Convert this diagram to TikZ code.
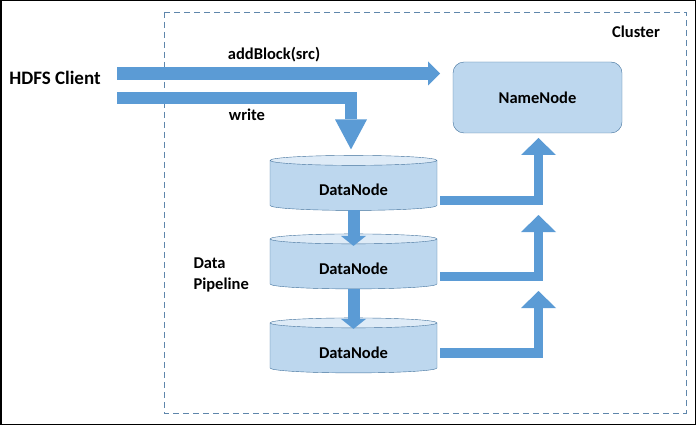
\documentclass[tikz,border=0pt]{standalone}
\usepackage{fontspec}
\setmainfont{Carlito}
\usetikzlibrary{arrows.meta,shapes.geometric,calc}

\definecolor{flowblue}{HTML}{5B9BD5}
\definecolor{rimblue}{HTML}{41719C}
\definecolor{bodyblue}{HTML}{BDD7EE}
\definecolor{capblue}{HTML}{DEEBF7}

\tikzset{
  lbl/.style={font=\fontsize{16.5}{21}\selectfont\bfseries},
  datanode/.style={cylinder, shape border rotate=90, aspect=0.144,
    draw=rimblue, cylinder uses custom fill, cylinder body fill=bodyblue,
    cylinder end fill=capblue, minimum width=167pt, minimum height=55pt,
    inner sep=0pt, outer sep=0pt, text height=20.5pt, text depth=0.5pt, lbl},
  namenode/.style={rectangle, rounded corners=11pt, draw=rimblue, fill=bodyblue,
    minimum width=169pt, minimum height=71pt, outer sep=0pt, lbl},
  flow/.style={draw=flowblue, line width=#1, line join=miter},
}

\begin{document}
\begin{tikzpicture}[x=1pt, y=-1pt]
    \useasboundingbox (0,0) rectangle (696,425);
    \draw[line width=1.5pt] (0.75,0.75) rectangle (695.25,424.25);

    % cluster frame
    \draw[rimblue!85!white, dash pattern=on 6pt off 4pt] (164,12) rectangle (686,413);
    \node[lbl] (cluster) at (636,32) {Cluster};

    \node[lbl, font=\fontsize{19}{23}\selectfont\bfseries] (client) at (55,78) {HDFS Client};
    \node[namenode] (name) at (537.5,97.5) {NameNode};

    \node[datanode] (dn1) at (353.5,185.5) {DataNode};
    \node[datanode] (dn2) at (353.5,264) {DataNode};
    \node[datanode] (dn3) at (353.5,348) {DataNode};

    \node[lbl, align=left, anchor=west] (pipe) at (190,274.5) {Data\\Pipeline};
    \node[lbl] (addlbl) at (274,55) {addBlock(src)};
    \node[lbl] (writelbl) at (247,115) {write};

    \coordinate (addsrc) at (117,73.5);
    \coordinate (writesrc) at (117,98);
    \coordinate (tip2) at (538.5,215);
    \coordinate (tip3) at (538.5,291);

    % client side
    \draw[flow=13pt, -{Triangle[length=12pt, width=24pt, line width=0pt]}, shorten >=13pt]
        (addsrc) -- (addsrc -| name.west);
    \draw[flow=12pt, -{Triangle[length=30pt, width=32pt, line width=0pt]}, shorten >=6pt]
        (writesrc) -| ([xshift=-2.5pt]dn1.north);

    % pipeline
    \draw[flow=12pt, -{Triangle[length=10pt, width=25pt, line width=0pt]}]
        (dn1.south) -- ([yshift=-12pt]dn2.north);
    \draw[flow=12pt, -{Triangle[length=10pt, width=25pt, line width=0pt]}]
        (dn2.south) -- ([yshift=-11pt]dn3.north);

    % acks to namenode
    \draw[flow=9.5pt, -{Triangle[length=17pt, width=35pt, line width=0pt]}, shorten >=5pt]
        ([xshift=3pt, yshift=-15pt]dn1.east) -| ([xshift=1pt]name.south);
    \draw[flow=9.5pt, -{Triangle[length=17pt, width=35pt, line width=0pt]}]
        ([xshift=3pt, yshift=-12.5pt]dn2.east) -| (tip2);
    \draw[flow=9.5pt, -{Triangle[length=17pt, width=35pt, line width=0pt]}]
        ([xshift=3pt, yshift=-5pt]dn3.east) -| (tip3);
\end{tikzpicture}
\end{document}
